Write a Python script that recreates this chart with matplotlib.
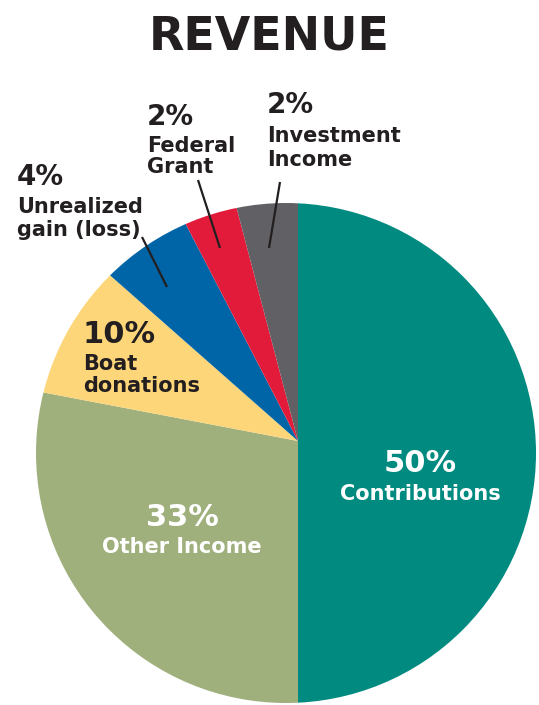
import matplotlib
matplotlib.use("Agg")
import matplotlib.pyplot as plt
from matplotlib.patches import Circle

# Slice shares as drawn (degrees of the drawing turned into percent), clockwise from 12 o'clock
names = ["Contributions", "Other Income", "Boat\ndonations", "Unrealized\ngain (loss)",
         "Federal\nGrant", "Investment\nIncome"]
pct_labels = ["50%", "33%", "10%", "4%", "2%", "2%"]
shares = [50.0, 28.0, 8.5, 5.9, 3.5, 4.1]
colors = ["#008a80", "#a0b07c", "#fdd67a", "#0065a6", "#e31b3b", "#616064"]

W, H = 539, 705
INK = "#231f20"


def py(y):
    # pixel row (from top) -> data y
    return H - y


def main():
    plt.rcParams["font.family"] = ["DejaVu Sans"]
    fig = plt.figure(figsize=(W / 100, H / 100), dpi=100)
    ax = fig.add_axes([0, 0, 1, 1])

    # wedges start from a point slightly off the circle centre, then clipped to the disc
    wedges, _ = ax.pie(shares, colors=colors, startangle=90, counterclock=False,
                       center=(298, py(441)), radius=420,
                       wedgeprops=dict(linewidth=0))
    ax.set_xlim(0, W)
    ax.set_ylim(0, H)
    ax.set_aspect("equal")
    ax.axis("off")

    disc = Circle((286, py(453)), 250, facecolor="none", edgecolor="none")
    ax.add_patch(disc)
    for w in wedges:
        w.set_clip_on(True)
        w.set_clip_path(disc)

    ax.text(269, py(50), "REVENUE", ha="center", va="baseline",
            fontsize=33, fontweight="bold", color=INK)

    # outside labels: (index, x, baseline of pct, baselines of name lines)
    outside = [(4, 147, 125, [152, 173]),
               (5, 267, 113, [142, 166]),
               (3, 17, 185, [213, 236])]
    for i, x, yb, lines in outside:
        ax.text(x, py(yb), pct_labels[i], ha="left", va="baseline",
                fontsize=20, fontweight="bold", color=INK)
        for txt, yl in zip(names[i].split("\n"), lines):
            ax.text(x, py(yl), txt, ha="left", va="baseline",
                    fontsize=15, fontweight="bold", color=INK)

    # leader lines
    for (x0, y0), (x1, y1) in [((198, 180), (220, 248)),
                               ((280, 182), (269, 248)),
                               ((142, 237), (167, 287))]:
        ax.plot([x0, x1], [py(y0), py(y1)], color=INK, lw=1.6,
                solid_capstyle="butt")

    # inside labels
    ax.text(83, py(343), pct_labels[2], ha="left", va="baseline",
            fontsize=22, fontweight="bold", color=INK)
    for txt, yl in zip(names[2].split("\n"), [370, 392]):
        ax.text(83, py(yl), txt, ha="left", va="baseline",
                fontsize=15, fontweight="bold", color=INK)

    for i, x, yp, yn in [(1, 182, 526, 553), (0, 420, 472, 500)]:
        ax.text(x, py(yp), pct_labels[i], ha="center", va="baseline",
                fontsize=22, fontweight="bold", color="white")
        ax.text(x, py(yn), names[i], ha="center", va="baseline",
                fontsize=15, fontweight="bold", color="white")

    fig.savefig("out.png", dpi=100)


if __name__ == "__main__":
    main()
